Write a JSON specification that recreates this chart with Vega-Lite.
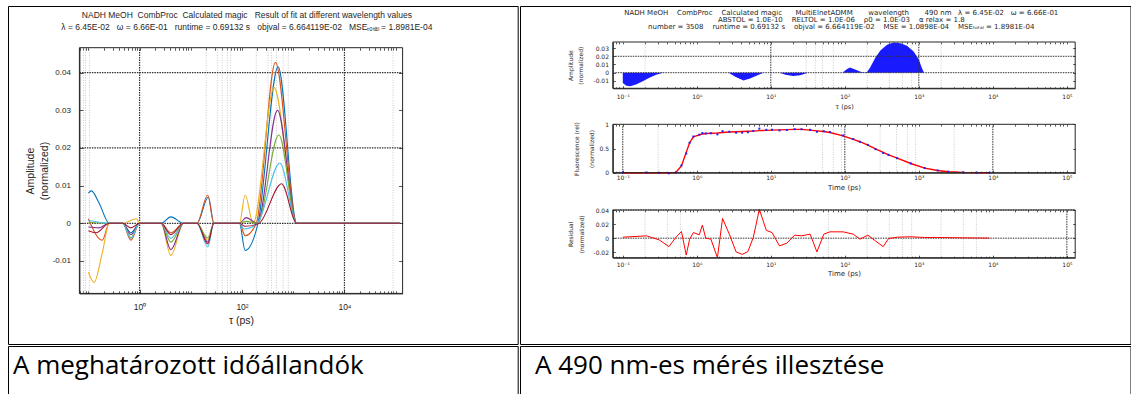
{
  "$schema": "https://vega.github.io/schema/vega-lite/v6.json",
  "padding": {"left": 7, "top": 5, "right": 0, "bottom": 0},
  "background": "white",
  "spacing": 0,
  "config": {
    "view": {"stroke": null},
    "concat": {"spacing": 0},
    "font": "Liberation Sans",
    "axis": {"labelFont": "Liberation Sans", "titleFont": "Liberation Sans", "labelColor": "#262626", "titleColor": "#262626", "domainColor": "#262626", "tickColor": "#262626", "titleFontWeight": "normal", "grid": false, "domainWidth": 1, "tickWidth": 0.8, "labelFlush": false, "labelOverlap": false},
    "title": {"font": "Liberation Sans", "fontWeight": "normal", "color": "#262626"}
  },
  "datasets": {
    "amp": [
      {"s":"1","tau":0.1,"a":0.008},{"s":"1","tau":0.115,"a":0.0086},{"s":"1","tau":0.16,"a":0.0055},{"s":"1","tau":0.257,"a":0},{"s":"1","tau":0.468,"a":0},{"s":"1","tau":0.676,"a":-0.0025},{"s":"1","tau":1,"a":0},{"s":"1","tau":2.63,"a":0},{"s":"1","tau":4.07,"a":0.0017},{"s":"1","tau":7.24,"a":0},{"s":"1","tau":13.2,"a":0},{"s":"1","tau":22,"a":0.007},{"s":"1","tau":28.2,"a":0},{"s":"1","tau":89.1,"a":0},{"s":"1","tau":115,"a":-0.0072},{"s":"1","tau":205,"a":0},{"s":"1","tau":507,"a":0.0415},{"s":"1","tau":1172,"a":0},{"s":"1","tau":120000,"a":0},
      {"s":"2","tau":0.1,"a":0.0012},{"s":"2","tau":0.186,"a":-0.0045},{"s":"2","tau":0.257,"a":0},{"s":"2","tau":0.468,"a":0},{"s":"2","tau":0.676,"a":-0.0045},{"s":"2","tau":1,"a":0},{"s":"2","tau":2.63,"a":0},{"s":"2","tau":4.07,"a":-0.0025},{"s":"2","tau":7.24,"a":0},{"s":"2","tau":13.2,"a":0},{"s":"2","tau":21.4,"a":0.0075},{"s":"2","tau":28.2,"a":0},{"s":"2","tau":89.1,"a":0},{"s":"2","tau":115,"a":-0.0033},{"s":"2","tau":190,"a":0},{"s":"2","tau":450,"a":0.0427},{"s":"2","tau":1172,"a":0},{"s":"2","tau":120000,"a":0},
      {"s":"3","tau":0.1,"a":-0.013},{"s":"3","tau":0.129,"a":-0.0157},{"s":"3","tau":0.186,"a":-0.008},{"s":"3","tau":0.257,"a":0},{"s":"3","tau":0.468,"a":0},{"s":"3","tau":0.87,"a":0.0012},{"s":"3","tau":1,"a":0},{"s":"3","tau":2.63,"a":0},{"s":"3","tau":4.07,"a":-0.0085},{"s":"3","tau":7.24,"a":0},{"s":"3","tau":13.2,"a":0},{"s":"3","tau":21.4,"a":-0.0045},{"s":"3","tau":28.2,"a":0},{"s":"3","tau":89.1,"a":0},{"s":"3","tau":115,"a":0.0075},{"s":"3","tau":165,"a":0},{"s":"3","tau":423,"a":0.036},{"s":"3","tau":1172,"a":0},{"s":"3","tau":120000,"a":0},
      {"s":"4","tau":0.1,"a":-0.001},{"s":"4","tau":0.16,"a":-0.0012},{"s":"4","tau":0.257,"a":0},{"s":"4","tau":0.468,"a":0},{"s":"4","tau":0.676,"a":-0.003},{"s":"4","tau":1,"a":0},{"s":"4","tau":2.63,"a":0},{"s":"4","tau":4.07,"a":-0.007},{"s":"4","tau":7.24,"a":0},{"s":"4","tau":13.2,"a":0},{"s":"4","tau":21.4,"a":-0.005},{"s":"4","tau":28.2,"a":0},{"s":"4","tau":89.1,"a":0},{"s":"4","tau":120,"a":0.0015},{"s":"4","tau":200,"a":0},{"s":"4","tau":493,"a":0.03},{"s":"4","tau":1172,"a":0},{"s":"4","tau":120000,"a":0},
      {"s":"5","tau":0.1,"a":0.0003},{"s":"5","tau":0.257,"a":0},{"s":"5","tau":0.468,"a":0},{"s":"5","tau":0.676,"a":-0.0038},{"s":"5","tau":1,"a":0},{"s":"5","tau":2.63,"a":0},{"s":"5","tau":4.07,"a":-0.005},{"s":"5","tau":7.24,"a":0},{"s":"5","tau":13.2,"a":0},{"s":"5","tau":21.4,"a":-0.0039},{"s":"5","tau":28.2,"a":0},{"s":"5","tau":89.1,"a":0},{"s":"5","tau":120,"a":0.0005},{"s":"5","tau":200,"a":0},{"s":"5","tau":524,"a":0.0235},{"s":"5","tau":1172,"a":0},{"s":"5","tau":120000,"a":0},
      {"s":"6","tau":0.1,"a":0.0008},{"s":"6","tau":0.257,"a":0},{"s":"6","tau":0.468,"a":0},{"s":"6","tau":0.676,"a":-0.004},{"s":"6","tau":1,"a":0},{"s":"6","tau":2.63,"a":0},{"s":"6","tau":4.07,"a":-0.004},{"s":"6","tau":7.24,"a":0},{"s":"6","tau":13.2,"a":0},{"s":"6","tau":21.4,"a":-0.0063},{"s":"6","tau":28.2,"a":0},{"s":"6","tau":89.1,"a":0},{"s":"6","tau":110,"a":-0.0015},{"s":"6","tau":200,"a":0},{"s":"6","tau":548,"a":0.016},{"s":"6","tau":1172,"a":0},{"s":"6","tau":120000,"a":0},
      {"s":"7","tau":0.1,"a":-0.002},{"s":"7","tau":0.14,"a":-0.0025},{"s":"7","tau":0.257,"a":0},{"s":"7","tau":0.468,"a":0},{"s":"7","tau":0.676,"a":-0.0012},{"s":"7","tau":1,"a":0},{"s":"7","tau":2.63,"a":0},{"s":"7","tau":4.07,"a":-0.003},{"s":"7","tau":7.24,"a":0},{"s":"7","tau":13.2,"a":0},{"s":"7","tau":21.4,"a":-0.0055},{"s":"7","tau":28.2,"a":0},{"s":"7","tau":89.1,"a":0},{"s":"7","tau":115,"a":-0.0008},{"s":"7","tau":215,"a":0},{"s":"7","tau":592,"a":0.0105},{"s":"7","tau":1172,"a":0},{"s":"7","tau":120000,"a":0}
    ],
    "spec": [
      {"tau":0.1,"a":-0.0125},{"tau":0.112,"a":-0.0158},{"tau":0.126,"a":-0.0165},{"tau":0.151,"a":-0.0145},{"tau":0.186,"a":-0.0105},{"tau":0.229,"a":-0.006},{"tau":0.282,"a":-0.0025},{"tau":0.331,"a":-0.0006},{"tau":0.363,"a":0},
      {"tau":2.69,"a":0},{"tau":3.31,"a":-0.005},{"tau":4.27,"a":-0.0094},{"tau":5.25,"a":-0.007},{"tau":6.61,"a":-0.003},{"tau":7.94,"a":0},
      {"tau":13.2,"a":0},{"tau":15.8,"a":-0.0025},{"tau":20,"a":-0.004},{"tau":25.1,"a":-0.003},{"tau":31.6,"a":0},
      {"tau":93,"a":0},{"tau":105,"a":0.004},{"tau":117,"a":0.0062},{"tau":138,"a":0.004},{"tau":166,"a":0.0008},{"tau":186,"a":0.0003},{"tau":200,"a":0.001},{"tau":219,"a":0.006},{"tau":257,"a":0.018},{"tau":302,"a":0.027},{"tau":372,"a":0.034},{"tau":457,"a":0.0367},{"tau":562,"a":0.036},{"tau":692,"a":0.0327},{"tau":851,"a":0.0257},{"tau":1000,"a":0.016},{"tau":1096,"a":0.006},{"tau":1175,"a":0},{"tau":100000,"a":0}
    ],
    "tr": [
      {"tau":0.1,"fit":0,"data":0.0014,"res":0.0014},{"tau":0.21,"fit":0,"data":0.0033,"res":0.0033},{"tau":0.31,"fit":0,"data":-0.0024,"res":-0.0024},{"tau":0.42,"fit":0,"data":-0.012,"res":-0.012},{"tau":0.52,"fit":0.005,"data":0.006,"res":0.001},{"tau":0.62,"fit":0.14,"data":0.15,"res":0.0095},{"tau":0.72,"fit":0.42,"data":0.396,"res":-0.024},{"tau":0.8,"fit":0.62,"data":0.619,"res":-0.0014},{"tau":0.9,"fit":0.74,"data":0.748,"res":0.008},{"tau":1.08,"fit":0.78,"data":0.785,"res":0.0048},{"tau":1.19,"fit":0.8,"data":0.819,"res":0.0186},{"tau":1.32,"fit":0.81,"data":0.81,"res":0},{"tau":1.55,"fit":0.815,"data":0.814,"res":-0.0014},{"tau":1.9,"fit":0.82,"data":0.792,"res":-0.0276},{"tau":2.23,"fit":0.83,"data":0.858,"res":0.028},{"tau":2.75,"fit":0.84,"data":0.846,"res":0.0057},{"tau":3.4,"fit":0.845,"data":0.826,"res":-0.0195},{"tau":4.1,"fit":0.85,"data":0.827,"res":-0.023},{"tau":4.9,"fit":0.855,"data":0.836,"res":-0.019},{"tau":5.8,"fit":0.86,"data":0.861,"res":0.001},{"tau":7,"fit":0.87,"data":0.911,"res":0.041},{"tau":8.7,"fit":0.875,"data":0.886,"res":0.011},{"tau":10.4,"fit":0.88,"data":0.888,"res":0.008},{"tau":13.1,"fit":0.885,"data":0.874,"res":-0.011},{"tau":16.5,"fit":0.89,"data":0.883,"res":-0.007},{"tau":21,"fit":0.895,"data":0.899,"res":0.0043},{"tau":26,"fit":0.895,"data":0.898,"res":0.0033},{"tau":34,"fit":0.88,"data":0.886,"res":0.0057},{"tau":42,"fit":0.865,"data":0.846,"res":-0.0195},{"tau":52,"fit":0.85,"data":0.856,"res":0.0057},{"tau":63,"fit":0.83,"data":0.839,"res":0.009},{"tau":95,"fit":0.76,"data":0.769,"res":0.009},{"tau":130,"fit":0.69,"data":0.696,"res":0.0057},{"tau":160,"fit":0.64,"data":0.639,"res":-0.0014},{"tau":205,"fit":0.57,"data":0.574,"res":0.0043},{"tau":260,"fit":0.49,"data":0.486,"res":-0.004},{"tau":330,"fit":0.42,"data":0.408,"res":-0.012},{"tau":390,"fit":0.37,"data":0.37,"res":-0.0005},{"tau":510,"fit":0.3,"data":0.301,"res":0.0014},{"tau":780,"fit":0.19,"data":0.192,"res":0.002},{"tau":1200,"fit":0.095,"data":0.096,"res":0.001},{"tau":1800,"fit":0.045,"data":0.046,"res":0.001},{"tau":2500,"fit":0.02,"data":0.021,"res":0.0008},{"tau":4000,"fit":0.007,"data":0.0075,"res":0.0005},{"tau":6000,"fit":0.002,"data":0.0023,"res":0.0003},{"tau":9000,"fit":0,"data":0.0002,"res":0.0002}
    ]
  },
  "vconcat": [
    {
      "spacing": 0,
      "hconcat": [
        {
          "width": 509.7, "height": 338,
          "view": {"stroke": "black", "strokeWidth": 1},
          "title": {"text": ["NADH MeOH\u00a0\u00a0CombProc\u00a0\u00a0Calculated magic\u00a0\u00a0\u00a0Result of fit at different wavelength values", "λ = 6.45E-02\u00a0\u00a0\u00a0ω = 6.66E-01\u00a0\u00a0\u00a0runtime = 0.69132 s\u00a0\u00a0\u00a0objval = 6.664119E-02\u00a0\u00a0\u00a0MSEₜₒₜₐₗ = 1.8981E-04"], "anchor": "middle", "frame": "group", "orient": "top", "offset": -25, "dx": -16, "fontSize": 8.5, "lineHeight": 11.5, "font": "Liberation Sans", "fontWeight": "normal", "color": "#262626"},
          "resolve": {"axis": {"x": "independent", "y": "independent"}},
          "layer": [
            {
              "data": {"values": [{"tau":0.081},{"tau":0.088},{"tau":0.105},{"tau":20},{"tau":33},{"tau":41},{"tau":52},{"tau":60},{"tau":190},{"tau":322},{"tau":375},{"tau":470},{"tau":635},{"tau":800},{"tau":89000}]},
              "mark": {"type": "rule", "color": "#bdbdbd", "strokeDash": [1, 1.5], "strokeWidth": 0.8},
              "encoding": {
                "x": {"field": "tau", "type": "quantitative", "scale": {"type": "log", "domain": [0.0668, 136500], "range": [71.4, 394.6], "nice": false}, "axis": {"orient": "bottom", "offset": -50.6, "values": [0.07,0.08,0.09,0.1,0.2,0.3,0.4,0.5,0.6,0.7,0.8,0.9,1,2,3,4,5,6,7,8,9,10,20,30,40,50,60,70,80,90,100,200,300,400,500,600,700,800,900,1000,2000,3000,4000,5000,6000,7000,8000,9000,10000,20000,30000,40000,50000,60000,70000,80000,90000,100000], "labels": false, "domain": false, "tickSize": -2.5, "title": null}},
                "y": {"datum": -0.0186, "type": "quantitative", "scale": {"domain": [-0.0186, 0.0466], "range": [287.4, 41.7], "nice": false, "zero": false}, "axis": {"orient": "right", "offset": -115.1, "values": [-0.01, 0, 0.01, 0.02, 0.03, 0.04], "labels": false, "domain": false, "tickSize": -4, "title": null}},
                "y2": {"datum": 0.0466}
              }
            },
            {
              "data": {"values": [{"tau": 1}, {"tau": 10000}]},
              "mark": {"type": "rule", "color": "#303030", "strokeDash": [1.5, 1], "strokeWidth": 1.2},
              "encoding": {
                "x": {"field": "tau", "type": "quantitative", "axis": {"orient": "top", "offset": -41.7, "values": [0.07,0.08,0.09,0.1,0.2,0.3,0.4,0.5,0.6,0.7,0.8,0.9,1,2,3,4,5,6,7,8,9,10,20,30,40,50,60,70,80,90,100,200,300,400,500,600,700,800,900,1000,2000,3000,4000,5000,6000,7000,8000,9000,10000,20000,30000,40000,50000,60000,70000,80000,90000,100000], "labels": false, "domain": false, "tickSize": -2.5, "title": null}},
                "y": {"datum": -0.0186, "type": "quantitative", "axis": null},
                "y2": {"datum": 0.0466}
              }
            },
            {
              "data": {"values": [{"a": 0}, {"a": 0.02}, {"a": 0.04}]},
              "mark": {"type": "rule", "color": "#303030", "strokeDash": [1.5, 1], "strokeWidth": 1.2},
              "encoding": {
                "x": {"datum": 0.0668, "type": "quantitative", "axis": null},
                "x2": {"datum": 136500},
                "y": {"field": "a", "type": "quantitative", "axis": null}
              }
            },
            {
              "data": {"name": "amp"},
              "mark": {"type": "line", "interpolate": "monotone", "strokeWidth": 1.1},
              "encoding": {
                "x": {"field": "tau", "type": "quantitative", "axis": {"orient": "bottom", "offset": -50.6, "values": [1, 100, 10000], "labelExpr": "'10' + ['⁻¹','⁰','¹','²','³','⁴','⁵'][round(log(datum.value)/LN10) + 1]", "title": "τ (ps)", "titleFontSize": 10.5, "labelFontSize": 8.5, "tickSize": -4, "labelPadding": 13, "titlePadding": 5}},
                "y": {"field": "a", "type": "quantitative", "axis": {"orient": "left", "offset": -71.4, "values": [-0.01, 0, 0.01, 0.02, 0.03, 0.04], "format": ".2~f", "labelExpr": "replace(datum.label, '−', '-')", "title": ["Amplitude", "(normalized)"], "titleFontSize": 10.5, "titleLineHeight": 14, "labelFontSize": 8, "tickSize": -4, "labelPadding": 13, "titlePadding": 3}},
                "color": {"field": "s", "type": "nominal", "scale": {"domain": ["1","2","3","4","5","6","7"], "range": ["#0072BD", "#D95319", "#EDB120", "#7E2F8E", "#77AC30", "#4DBEEE", "#A2142F"]}, "legend": null}
              }
            },
            {
              "data": {"values": [{}]},
              "mark": {"type": "rect", "fill": "transparent", "stroke": "#262626", "strokeWidth": 1},
              "encoding": {
                "x": {"datum": 0.0668, "type": "quantitative", "axis": null},
                "x2": {"datum": 136500},
                "y": {"datum": -0.0186, "type": "quantitative", "axis": null},
                "y2": {"datum": 0.0466}
              }
            }
          ]
        },
        {
          "width": 610.5, "height": 338,
          "view": {"stroke": "black", "strokeWidth": 1},
          "title": {"text": ["NADH MeOH\u00a0\u00a0\u00a0\u00a0CombProc\u00a0\u00a0\u00a0\u00a0Calculated magic\u00a0\u00a0\u00a0\u00a0\u00a0\u00a0MultiElnetADMM\u00a0\u00a0\u00a0\u00a0\u00a0\u00a0\u00a0wavelength\u00a0\u00a0\u00a0\u00a0\u00a0\u00a0\u00a0490 nm\u00a0\u00a0\u00a0λ = 6.45E-02\u00a0\u00a0\u00a0ω = 6.66E-01", "ABSTOL = 1.0E-10\u00a0\u00a0\u00a0\u00a0RELTOL = 1.0E-06\u00a0\u00a0\u00a0\u00a0ρ0 = 1.0E-03\u00a0\u00a0\u00a0\u00a0α relax = 1.8", "number = 3508\u00a0\u00a0\u00a0\u00a0runtime = 0.69132 s\u00a0\u00a0\u00a0\u00a0objval = 6.664119E-02\u00a0\u00a0\u00a0\u00a0MSE = 1.0898E-04\u00a0\u00a0\u00a0\u00a0MSEₜₒₜₐₗ = 1.8981E-04"], "anchor": "middle", "frame": "group", "orient": "top", "offset": -24, "dx": 16, "fontSize": 7, "lineHeight": 7.2, "font": "DejaVu Sans", "fontWeight": "normal", "color": "#262626"},
          "resolve": {"scale": {"y": "independent"}, "axis": {"x": "independent", "y": "independent"}},
          "layer": [
            {
              "resolve": {"axis": {"x": "independent", "y": "independent"}},
              "layer": [
                {
                  "data": {"values": [{"tau":0.2},{"tau":30},{"tau":40},{"tau":50},{"tau":70},{"tau":200},{"tau":400},{"tau":600},{"tau":800},{"tau":2000}]},
                  "mark": {"type": "rule", "color": "#bdbdbd", "strokeDash": [1, 1.5], "strokeWidth": 0.8},
                  "encoding": {
                    "x": {"field": "tau", "type": "quantitative", "scale": {"type": "log", "domain": [0.0733, 129700], "range": [92.8, 555.2], "nice": false}, "axis": {"orient": "top", "offset": -36, "values": [0.08,0.09,0.1,0.2,0.3,0.4,0.5,0.6,0.7,0.8,0.9,1,2,3,4,5,6,7,8,9,10,20,30,40,50,60,70,80,90,100,200,300,400,500,600,700,800,900,1000,2000,3000,4000,5000,6000,7000,8000,9000,10000,20000,30000,40000,50000,60000,70000,80000,90000,100000], "labels": false, "domain": false, "tickSize": -1.8, "title": null}},
                    "y": {"datum": -0.019, "type": "quantitative", "scale": {"domain": [-0.019, 0.0374], "range": [82.3, 36], "nice": false, "zero": false}, "axis": {"orient": "right", "offset": -55.3, "values": [-0.01, 0, 0.01, 0.02, 0.03], "labels": false, "domain": false, "tickSize": -2.5, "title": null}},
                    "y2": {"datum": 0.0374}
                  }
                },
                {
                  "data": {"name": "spec"},
                  "mark": {"type": "area", "color": "#1a1aff"},
                  "encoding": {
                    "x": {"field": "tau", "type": "quantitative", "axis": {"orient": "bottom", "offset": -255.7, "values": [0.1, 1, 10, 100, 1000, 10000, 100000], "labelExpr": "'10' + ['⁻¹','⁰','¹','²','³','⁴','⁵'][round(log(datum.value)/LN10) + 1]", "title": "τ (ps)", "labelFont": "DejaVu Sans", "labelFontSize": 6, "titleFont": "DejaVu Sans", "titleFontSize": 6.5, "tickSize": -2.5, "labelPadding": 7.5, "titlePadding": 4}},
                    "y": {"field": "a", "type": "quantitative", "axis": {"orient": "left", "offset": -92.8, "values": [-0.01, 0, 0.01, 0.02, 0.03], "format": ".2~f", "labelExpr": "replace(datum.label, '−', '-')", "title": ["Amplitude", "(normalized)"], "labelFont": "DejaVu Sans", "labelFontSize": 6, "titleFont": "DejaVu Sans", "titleFontSize": 6, "titleLineHeight": 10, "tickSize": -2.5, "labelPadding": 6.8, "titlePadding": 9}},
                    "y2": {"datum": 0}
                  }
                },
                {
                  "data": {"values": [{"tau": 10}, {"tau": 1000}]},
                  "mark": {"type": "rule", "color": "#303030", "strokeDash": [1.5, 1], "strokeWidth": 1},
                  "encoding": {
                    "x": {"field": "tau", "type": "quantitative", "axis": {"orient": "bottom", "offset": -255.7, "values": [0.08,0.09,0.2,0.3,0.4,0.5,0.6,0.7,0.8,0.9,2,3,4,5,6,7,8,9,20,30,40,50,60,70,80,90,200,300,400,500,600,700,800,900,2000,3000,4000,5000,6000,7000,8000,9000,20000,30000,40000,50000,60000,70000,80000,90000], "labels": false, "domain": false, "tickSize": -1.5, "title": null}},
                    "y": {"datum": -0.019, "type": "quantitative", "axis": null},
                    "y2": {"datum": 0.0374}
                  }
                },
                {
                  "data": {"values": [{"a": 0}, {"a": 0.02}]},
                  "mark": {"type": "rule", "color": "#303030", "strokeDash": [1.5, 1], "strokeWidth": 1},
                  "encoding": {
                    "x": {"datum": 0.0733, "type": "quantitative", "axis": null},
                    "x2": {"datum": 129700},
                    "y": {"field": "a", "type": "quantitative", "axis": null}
                  }
                },
                {
                  "data": {"values": [{}]},
                  "mark": {"type": "rect", "fill": "transparent", "stroke": "#262626", "strokeWidth": 1},
                  "encoding": {
                    "x": {"datum": 0.0733, "type": "quantitative", "axis": null},
                    "x2": {"datum": 129700},
                    "y": {"datum": -0.019, "type": "quantitative", "axis": null},
                    "y2": {"datum": 0.0374}
                  }
                }
              ]
            },
            {
              "resolve": {"axis": {"x": "independent", "y": "independent"}},
              "layer": [
                {
                  "data": {"values": [{"tau":0.3},{"tau":50},{"tau":70},{"tau":90},{"tau":300},{"tau":500},{"tau":700},{"tau":900},{"tau":3000}]},
                  "mark": {"type": "rule", "color": "#bdbdbd", "strokeDash": [1, 1.5], "strokeWidth": 0.8},
                  "encoding": {
                    "x": {"field": "tau", "type": "quantitative", "scale": {"type": "log", "domain": [0.0733, 129700], "range": [92.8, 555.2], "nice": false}, "axis": {"orient": "top", "offset": -118.3, "values": [0.08,0.09,0.1,0.2,0.3,0.4,0.5,0.6,0.7,0.8,0.9,1,2,3,4,5,6,7,8,9,10,20,30,40,50,60,70,80,90,100,200,300,400,500,600,700,800,900,1000,2000,3000,4000,5000,6000,7000,8000,9000,10000,20000,30000,40000,50000,60000,70000,80000,90000,100000], "labels": false, "domain": false, "tickSize": -1.8, "title": null}},
                    "y": {"datum": 0, "type": "quantitative", "scale": {"domain": [0, 1], "range": [166.7, 118.3], "nice": false}, "axis": {"orient": "right", "offset": -55.3, "values": [0, 0.5, 1], "labels": false, "domain": false, "tickSize": -2.5, "title": null}},
                    "y2": {"datum": 1}
                  }
                },
                {
                  "data": {"values": [{"tau": 0.1}, {"tau": 100}, {"tau": 10000}]},
                  "mark": {"type": "rule", "color": "#303030", "strokeDash": [1.5, 1], "strokeWidth": 1},
                  "encoding": {
                    "x": {"field": "tau", "type": "quantitative", "axis": {"orient": "bottom", "offset": -171.3, "values": [0.08,0.09,0.2,0.3,0.4,0.5,0.6,0.7,0.8,0.9,2,3,4,5,6,7,8,9,20,30,40,50,60,70,80,90,200,300,400,500,600,700,800,900,2000,3000,4000,5000,6000,7000,8000,9000,20000,30000,40000,50000,60000,70000,80000,90000], "labels": false, "domain": false, "tickSize": -1.5, "title": null}},
                    "y": {"datum": 0, "type": "quantitative", "axis": null},
                    "y2": {"datum": 1}
                  }
                },
                {
                  "data": {"name": "tr"},
                  "mark": {"type": "line", "color": "#ff0000", "strokeWidth": 1.4},
                  "encoding": {
                    "x": {"field": "tau", "type": "quantitative", "axis": {"orient": "bottom", "offset": -171.3, "values": [0.1, 1, 10, 100, 1000, 10000, 100000], "labelExpr": "'10' + ['⁻¹','⁰','¹','²','³','⁴','⁵'][round(log(datum.value)/LN10) + 1]", "title": "Time (ps)", "labelFont": "DejaVu Sans", "labelFontSize": 6, "titleFont": "DejaVu Sans", "titleFontSize": 7, "tickSize": -2.5, "labelPadding": 4.5, "titlePadding": 3}},
                    "y": {"field": "fit", "type": "quantitative", "axis": {"orient": "left", "offset": -92.8, "values": [0, 0.5, 1], "format": ".1~f", "title": ["Fluorescence (rel)", "(normalized)"], "labelFont": "DejaVu Sans", "labelFontSize": 6, "titleFont": "DejaVu Sans", "titleFontSize": 6, "titleLineHeight": 15, "tickSize": -2.5, "labelPadding": 6.8, "titlePadding": 4}}
                  }
                },
                {
                  "data": {"name": "tr"},
                  "mark": {"type": "point", "shape": "square", "filled": true, "size": 4, "color": "#1f1fff", "opacity": 1},
                  "encoding": {
                    "x": {"field": "tau", "type": "quantitative", "axis": null},
                    "y": {"field": "data", "type": "quantitative", "axis": null}
                  }
                },
                {
                  "data": {"values": [{}]},
                  "mark": {"type": "rect", "fill": "transparent", "stroke": "#262626", "strokeWidth": 1},
                  "encoding": {
                    "x": {"datum": 0.0733, "type": "quantitative", "axis": null},
                    "x2": {"datum": 129700},
                    "y": {"datum": 0, "type": "quantitative", "axis": null},
                    "y2": {"datum": 1}
                  }
                }
              ]
            },
            {
              "resolve": {"axis": {"x": "independent", "y": "independent"}},
              "layer": [
                {
                  "data": {"values": [{"tau":0.2},{"tau":0.4},{"tau":0.6},{"tau":60},{"tau":200},{"tau":400},{"tau":600},{"tau":800},{"tau":2000},{"tau":4000},{"tau":6000}]},
                  "mark": {"type": "rule", "color": "#bdbdbd", "strokeDash": [1, 1.5], "strokeWidth": 0.8},
                  "encoding": {
                    "x": {"field": "tau", "type": "quantitative", "scale": {"type": "log", "domain": [0.0733, 129700], "range": [92.8, 555.2], "nice": false}, "axis": {"orient": "top", "offset": -204, "values": [0.08,0.09,0.1,0.2,0.3,0.4,0.5,0.6,0.7,0.8,0.9,1,2,3,4,5,6,7,8,9,10,20,30,40,50,60,70,80,90,100,200,300,400,500,600,700,800,900,1000,2000,3000,4000,5000,6000,7000,8000,9000,10000,20000,30000,40000,50000,60000,70000,80000,90000,100000], "labels": false, "domain": false, "tickSize": -1.8, "title": null}},
                    "y": {"datum": -0.0277, "type": "quantitative", "scale": {"domain": [-0.0277, 0.04], "range": [251.7, 204], "nice": false, "zero": false}, "axis": {"orient": "right", "offset": -55.3, "values": [-0.02, 0, 0.02, 0.04], "labels": false, "domain": false, "tickSize": -2.5, "title": null}},
                    "y2": {"datum": 0.04}
                  }
                },
                {
                  "data": {"values": [{"tau": 100000}]},
                  "mark": {"type": "rule", "color": "#303030", "strokeDash": [1.5, 1], "strokeWidth": 1},
                  "encoding": {
                    "x": {"field": "tau", "type": "quantitative", "axis": {"orient": "bottom", "offset": -86.3, "values": [0.08,0.09,0.2,0.3,0.4,0.5,0.6,0.7,0.8,0.9,2,3,4,5,6,7,8,9,20,30,40,50,60,70,80,90,200,300,400,500,600,700,800,900,2000,3000,4000,5000,6000,7000,8000,9000,20000,30000,40000,50000,60000,70000,80000,90000], "labels": false, "domain": false, "tickSize": -1.5, "title": null}},
                    "y": {"datum": -0.0277, "type": "quantitative", "axis": null},
                    "y2": {"datum": 0.04}
                  }
                },
                {
                  "data": {"values": [{"r": 0}, {"r": 0.04}]},
                  "mark": {"type": "rule", "color": "#303030", "strokeDash": [1.5, 1], "strokeWidth": 1},
                  "encoding": {
                    "x": {"datum": 0.0733, "type": "quantitative", "axis": null},
                    "x2": {"datum": 129700},
                    "y": {"field": "r", "type": "quantitative", "axis": null}
                  }
                },
                {
                  "data": {"name": "tr"},
                  "mark": {"type": "line", "color": "#ff0000", "strokeWidth": 1},
                  "encoding": {
                    "x": {"field": "tau", "type": "quantitative", "axis": {"orient": "bottom", "offset": -86.3, "values": [0.1, 1, 10, 100, 1000, 10000, 100000], "labelExpr": "'10' + ['⁻¹','⁰','¹','²','³','⁴','⁵'][round(log(datum.value)/LN10) + 1]", "title": "Time (ps)", "labelFont": "DejaVu Sans", "labelFontSize": 6, "titleFont": "DejaVu Sans", "titleFontSize": 7, "tickSize": -2.5, "labelPadding": 5.8, "titlePadding": 2}},
                    "y": {"field": "res", "type": "quantitative", "axis": {"orient": "left", "offset": -92.8, "values": [-0.02, 0, 0.02, 0.04], "format": ".2~f", "labelExpr": "replace(datum.label, '−', '-')", "title": ["Residual", "(normalized)"], "labelFont": "DejaVu Sans", "labelFontSize": 6, "titleFont": "DejaVu Sans", "titleFontSize": 6, "titleLineHeight": 11.5, "tickSize": -2.5, "labelPadding": 6.8, "titlePadding": 8}}
                  }
                },
                {
                  "data": {"values": [{}]},
                  "mark": {"type": "rect", "fill": "transparent", "stroke": "#262626", "strokeWidth": 1},
                  "encoding": {
                    "x": {"datum": 0.0733, "type": "quantitative", "axis": null},
                    "x2": {"datum": 129700},
                    "y": {"datum": -0.0277, "type": "quantitative", "axis": null},
                    "y2": {"datum": 0.04}
                  }
                }
              ]
            }
          ]
        }
      ]
    },
    {
      "spacing": 0,
      "hconcat": [
        {
          "width": 509.7, "height": 55,
          "view": {"stroke": "black", "strokeWidth": 1},
          "data": {"values": [{"caption": "A meghatározott időállandók"}]},
          "mark": {"type": "text", "align": "left", "baseline": "alphabetic", "font": "Open Sans", "fontSize": 26, "dx": 5, "color": "black"},
          "encoding": {
            "text": {"field": "caption", "type": "nominal"},
            "x": {"field": "caption", "type": "nominal", "axis": null, "scale": {"type": "point", "padding": 0, "align": 0}}
          }
        },
        {
          "width": 610.5, "height": 55,
          "view": {"stroke": "black", "strokeWidth": 1},
          "data": {"values": [{"caption": "A 490 nm-es mérés illesztése"}]},
          "mark": {"type": "text", "align": "left", "baseline": "alphabetic", "font": "Open Sans", "fontSize": 26, "dx": 15, "color": "black"},
          "encoding": {
            "text": {"field": "caption", "type": "nominal"},
            "x": {"field": "caption", "type": "nominal", "axis": null, "scale": {"type": "point", "padding": 0, "align": 0}}
          }
        }
      ]
    }
  ]
}
